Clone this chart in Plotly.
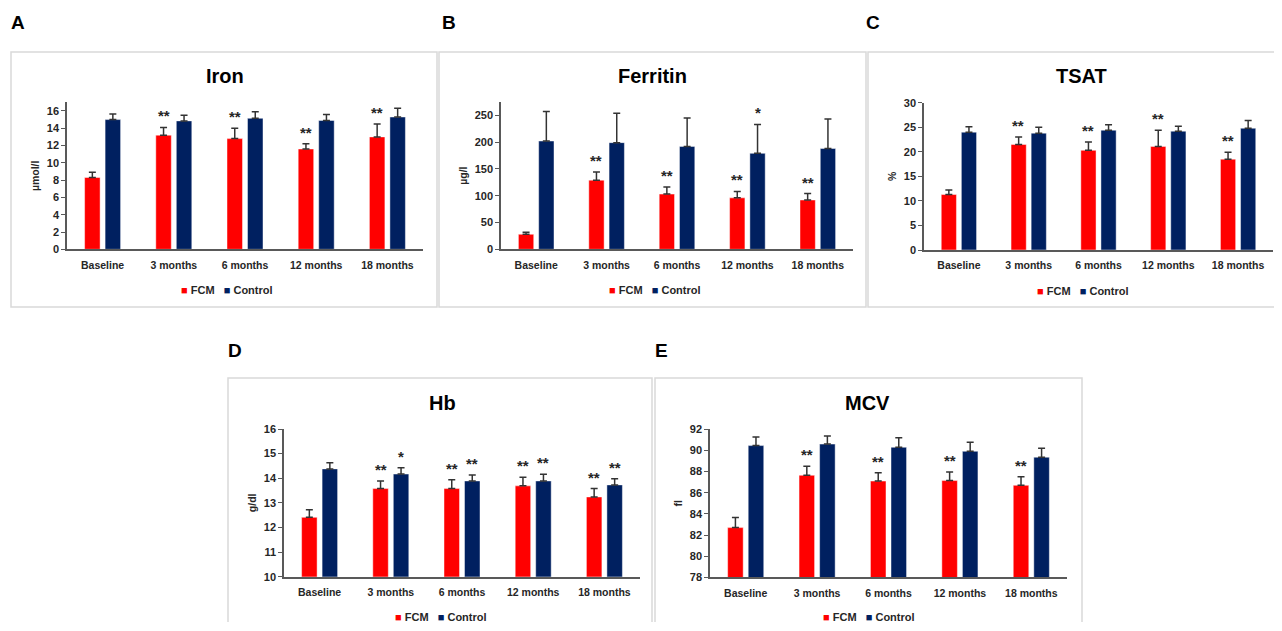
import plotly.graph_objects as go

# The page body has an 8px margin; the figure is sized to fit the window without scrollbars.
OFF = 8
W, H = 1266, 614

categories = ["Baseline", "3 months", "6 months", "12 months", "18 months"]
series_names = ["FCM", "Control"]
colors = {"FCM": "#FF0000", "Control": "#002060"}

# Panel A: Iron (µmol/l)
iron_fcm = [8.3, 13.2, 12.8, 11.6, 13.0]
iron_fcm_err = [0.6, 0.9, 1.2, 0.6, 1.5]
iron_ctl = [15.0, 14.85, 15.15, 14.9, 15.3]
iron_ctl_err = [0.65, 0.65, 0.75, 0.7, 1.0]
iron_fcm_sig = ["", "**", "**", "**", "**"]
iron_ctl_sig = ["", "", "", "", ""]

# Panel B: Ferritin (µg/l)
fer_fcm = [28, 129, 103, 96, 92]
fer_fcm_err = [4, 15, 13, 12, 12]
fer_ctl = [202, 199, 192, 179, 188]
fer_ctl_err = [55, 55, 53, 54, 55]
fer_fcm_sig = ["", "**", "**", "**", "**"]
fer_ctl_sig = ["", "", "", "*", ""]

# Panel C: TSAT (%)
tsat_fcm = [11.3, 21.5, 20.3, 21.1, 18.5]
tsat_fcm_err = [0.9, 1.5, 1.7, 3.3, 1.4]
tsat_ctl = [24.0, 23.8, 24.4, 24.2, 24.8]
tsat_ctl_err = [1.1, 1.2, 1.1, 1.0, 1.6]
tsat_fcm_sig = ["", "**", "**", "**", "**"]
tsat_ctl_sig = ["", "", "", "", ""]

# Panel D: Hb (g/dl)
hb_fcm = [12.41, 13.58, 13.58, 13.69, 13.24]
hb_fcm_err = [0.31, 0.31, 0.36, 0.35, 0.34]
hb_ctl = [14.38, 14.17, 13.89, 13.89, 13.73]
hb_ctl_err = [0.25, 0.26, 0.24, 0.27, 0.25]
hb_fcm_sig = ["", "**", "**", "**", "**"]
hb_ctl_sig = ["", "*", "**", "**", "**"]

# Panel E: MCV (fl)
mcv_fcm = [82.7, 87.65, 87.1, 87.15, 86.7]
mcv_fcm_err = [0.95, 0.85, 0.8, 0.82, 0.8]
mcv_ctl = [90.46, 90.6, 90.3, 89.92, 89.36]
mcv_ctl_err = [0.8, 0.77, 0.9, 0.86, 0.84]
mcv_fcm_sig = ["", "**", "**", "**", "**"]
mcv_ctl_sig = ["", "", "", "", ""]

panels = [
    dict(letter="A", title="Iron", unit="µmol/l", yrange=[0, 17], dtick=2,
         fcm=iron_fcm, fcm_err=iron_fcm_err, ctl=iron_ctl, ctl_err=iron_ctl_err,
         fcm_sig=iron_fcm_sig, ctl_sig=iron_ctl_sig,
         px_x=(67, 423), px_y=(102.3, 249.3), box=(11, 52, 437, 307),
         title_xy=(225, 76), legend_xy=(227, 290), letter_xy=(18, 22)),
    dict(letter="B", title="Ferritin", unit="µg/l", yrange=[0, 275], dtick=50,
         fcm=fer_fcm, fcm_err=fer_fcm_err, ctl=fer_ctl, ctl_err=fer_ctl_err,
         fcm_sig=fer_fcm_sig, ctl_sig=fer_ctl_sig,
         px_x=(501, 853), px_y=(101.9, 249.3), box=(439, 52, 866, 307),
         title_xy=(652, 76), legend_xy=(655, 290), letter_xy=(449, 22)),
    dict(letter="C", title="TSAT", unit="%", yrange=[0, 30], dtick=5,
         fcm=tsat_fcm, fcm_err=tsat_fcm_err, ctl=tsat_ctl, ctl_err=tsat_ctl_err,
         fcm_sig=tsat_fcm_sig, ctl_sig=tsat_ctl_sig,
         px_x=(924, 1273), px_y=(102.7, 250), box=(868, 52, 1290, 307),
         title_xy=(1081, 76), legend_xy=(1083, 291), letter_xy=(873, 22)),
    dict(letter="D", title="Hb", unit="g/dl", yrange=[10, 16], dtick=1,
         fcm=hb_fcm, fcm_err=hb_fcm_err, ctl=hb_ctl, ctl_err=hb_ctl_err,
         fcm_sig=hb_fcm_sig, ctl_sig=hb_ctl_sig,
         px_x=(284, 640), px_y=(429, 576.7), box=(228, 378, 652, 650),
         title_xy=(442, 403), legend_xy=(441, 617), letter_xy=(235, 350)),
    dict(letter="E", title="MCV", unit="fl", yrange=[78, 92], dtick=2,
         fcm=mcv_fcm, fcm_err=mcv_fcm_err, ctl=mcv_ctl, ctl_err=mcv_ctl_err,
         fcm_sig=mcv_fcm_sig, ctl_sig=mcv_ctl_sig,
         px_x=(710, 1067), px_y=(429.3, 577.3), box=(655, 378, 1082, 650),
         title_xy=(868, 403), legend_xy=(869, 617), letter_xy=(661, 350)),
]

def fx(px):
    return (px - OFF) / W

def fy(py):
    return 1 - (py - OFF) / H

FONT = "Liberation Sans, Arial, sans-serif"
AXIS_COLOR = "#595959"
TEXT = "#262626"

fig = go.Figure()
annotations = []
shapes = []
layout = {}

for i, p in enumerate(panels):
    n = "" if i == 0 else str(i + 1)
    xa, ya = "x" + n, "y" + n
    for name, vals, errs in (("FCM", p["fcm"], p["fcm_err"]), ("Control", p["ctl"], p["ctl_err"])):
        fig.add_trace(go.Bar(
            x=categories, y=vals, name=name, xaxis=xa, yaxis=ya,
            marker=dict(color=colors[name], line=dict(color="rgba(255,255,255,0.45)", width=1)),
            error_y=dict(type="data", array=errs, arrayminus=[0] * len(errs), symmetric=False,
                         color="#333333", thickness=1.5, width=3.5),
            showlegend=False,
        ))
    base = p["yrange"][0]
    layout["xaxis" + n] = dict(
        domain=[fx(p["px_x"][0]), min(fx(p["px_x"][1]), 1.0)], anchor=ya,
        showline=True, linecolor=AXIS_COLOR, linewidth=1.5, ticks="",
        showgrid=False, zeroline=False, automargin=False, ticklabelstandoff=5,
        tickfont=dict(family=FONT, size=10.5, color=TEXT, weight="bold"),
    )
    layout["yaxis" + n] = dict(
        domain=[fy(p["px_y"][1]), fy(p["px_y"][0])], anchor=xa, range=p["yrange"],
        dtick=p["dtick"], tick0=base, showline=True, linecolor=AXIS_COLOR, linewidth=1.5,
        ticks="outside", ticklen=4, tickcolor=AXIS_COLOR, tickwidth=1,
        showgrid=False, zeroline=False, automargin=False,
        tickfont=dict(family=FONT, size=11, color=TEXT, weight="bold"),
        title=dict(text=p["unit"], standoff=5,
                   font=dict(family=FONT, size=10.5, color=TEXT, weight="bold")),
    )
    # significance stars
    for sigs, vals, errs, shift in ((p["fcm_sig"], p["fcm"], p["fcm_err"], -10.25),
                                    (p["ctl_sig"], p["ctl"], p["ctl_err"], 10.25)):
        for c, s, v, e in zip(categories, sigs, vals, errs):
            if s:
                annotations.append(dict(
                    x=c, y=v + e, xref=xa, yref=ya, xshift=shift, yshift=1,
                    text=s, showarrow=False, yanchor="bottom",
                    font=dict(family=FONT, size=15, color=TEXT, weight="bold"),
                ))
    # panel box
    x0, y0, x1, y1 = p["box"]
    shapes.append(dict(type="rect", xref="paper", yref="paper",
                       x0=fx(x0), x1=fx(x1), y0=fy(y1), y1=fy(y0),
                       line=dict(color="#D9D9D9", width=1.5), fillcolor="rgba(0,0,0,0)", layer="below"))
    # title
    annotations.append(dict(x=fx(p["title_xy"][0]), y=fy(p["title_xy"][1]), xref="paper", yref="paper",
                            text=p["title"], showarrow=False, xanchor="center", yanchor="middle",
                            font=dict(family=FONT, size=20, color="#000000", weight="bold")))
    # panel letter
    annotations.append(dict(x=fx(p["letter_xy"][0]), y=fy(p["letter_xy"][1]), xref="paper", yref="paper",
                            text=p["letter"], showarrow=False, xanchor="center", yanchor="middle",
                            font=dict(family=FONT, size=19, color="#000000", weight="bold")))
    # legend
    leg = "   ".join(f"<span style='color:{colors[s]}'>■</span> {s}" for s in series_names)
    annotations.append(dict(x=fx(p["legend_xy"][0]), y=fy(p["legend_xy"][1]), xref="paper", yref="paper",
                            text=leg, showarrow=False, xanchor="center", yanchor="middle",
                            font=dict(family=FONT, size=11, color=TEXT, weight="bold")))

fig.update_layout(
    width=W, height=H, margin=dict(l=0, r=0, t=0, b=0, autoexpand=False),
    paper_bgcolor="white", plot_bgcolor="white",
    barmode="group", bargap=0.424, bargroupgap=0.244,
    annotations=annotations, shapes=shapes, showlegend=False,
    **layout,
)

fig.write_html("out.html")
